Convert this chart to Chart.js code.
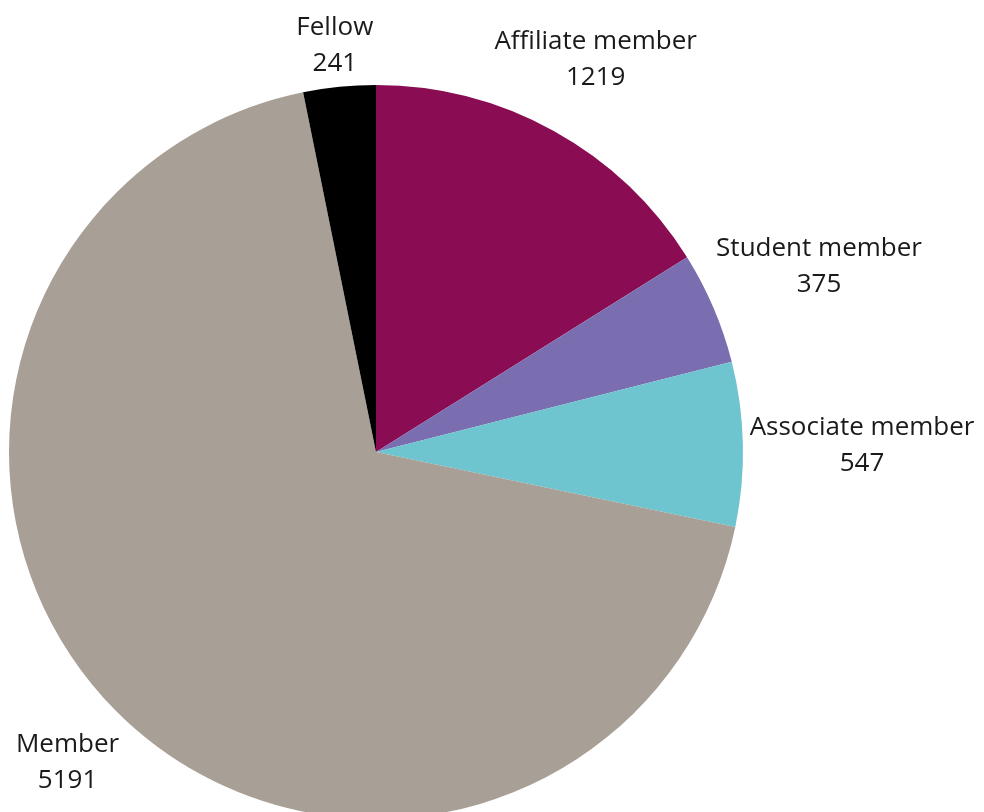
<!DOCTYPE html>
<html>
<head>
<meta charset="utf-8">
<script src="https://cdn.jsdelivr.net/npm/chart.js@4"></script>
<style>
  html, body { margin: 0; padding: 0; background: #fff; overflow: hidden; }
  body { width: 984px; height: 812px; position: relative; }
  #wrap { position: absolute; left: 0; top: 0; width: 984px; height: 830px; }
</style>
</head>
<body>
<div id="wrap"><canvas id="memberChart"></canvas></div>
<script>
  const categories = ["Affiliate member", "Student member", "Associate member", "Member", "Fellow"];
  const counts = [1219, 375, 547, 5191, 241];
  const sliceColors = ["#8a0c52", "#7a6eb0", "#6ec5cf", "#a89f96", "#000000"];

  // draws "name / value" outside each slice along its mid angle
  const outsideLabels = {
    id: "outsideLabels",
    afterDatasetsDraw(chart) {
      const ctx = chart.ctx;
      const meta = chart.getDatasetMeta(0);
      const lineGap = 36;
      ctx.save();
      ctx.font = "26px 'Open Sans'";
      ctx.fillStyle = "#1a1a1a";
      ctx.textAlign = "center";
      ctx.textBaseline = "middle";
      meta.data.forEach((arc, i) => {
        const { x, y, startAngle, endAngle, outerRadius } = arc.getProps(["x", "y", "startAngle", "endAngle", "outerRadius"], true);
        const mid = (startAngle + endAngle) / 2;
        const ux = Math.cos(mid), uy = Math.sin(mid);
        const line1 = categories[i], line2 = String(counts[i]);
        const hw = Math.max(ctx.measureText(line1).width, ctx.measureText(line2).width) / 2;
        const hh = 36;
        const dist = outerRadius + 6 + hw * Math.abs(ux) + hh * Math.abs(uy);
        const cx = x + ux * dist, cy = y + uy * dist + 4;
        ctx.fillText(line1, cx, cy - lineGap / 2);
        ctx.fillText(line2, cx, cy + lineGap / 2);
      });
      ctx.restore();
    }
  };

  const ctx = document.getElementById("memberChart").getContext("2d");
  const memberChart = new Chart(ctx, {
    type: "pie",
    data: {
      labels: categories,
      datasets: [
        {
          data: counts,
          backgroundColor: sliceColors,
          borderWidth: 0,
        },
      ],
    },
    options: {
      responsive: true,
      maintainAspectRatio: false,
      animation: false,
      radius: 367,
      layout: {
        padding: { left: 9, right: 241, top: 85, bottom: 11 },
      },
      plugins: {
        legend: { display: false },
        tooltip: { enabled: false },
      },
    },
    plugins: [outsideLabels],
  });
</script>
</body>
</html>
